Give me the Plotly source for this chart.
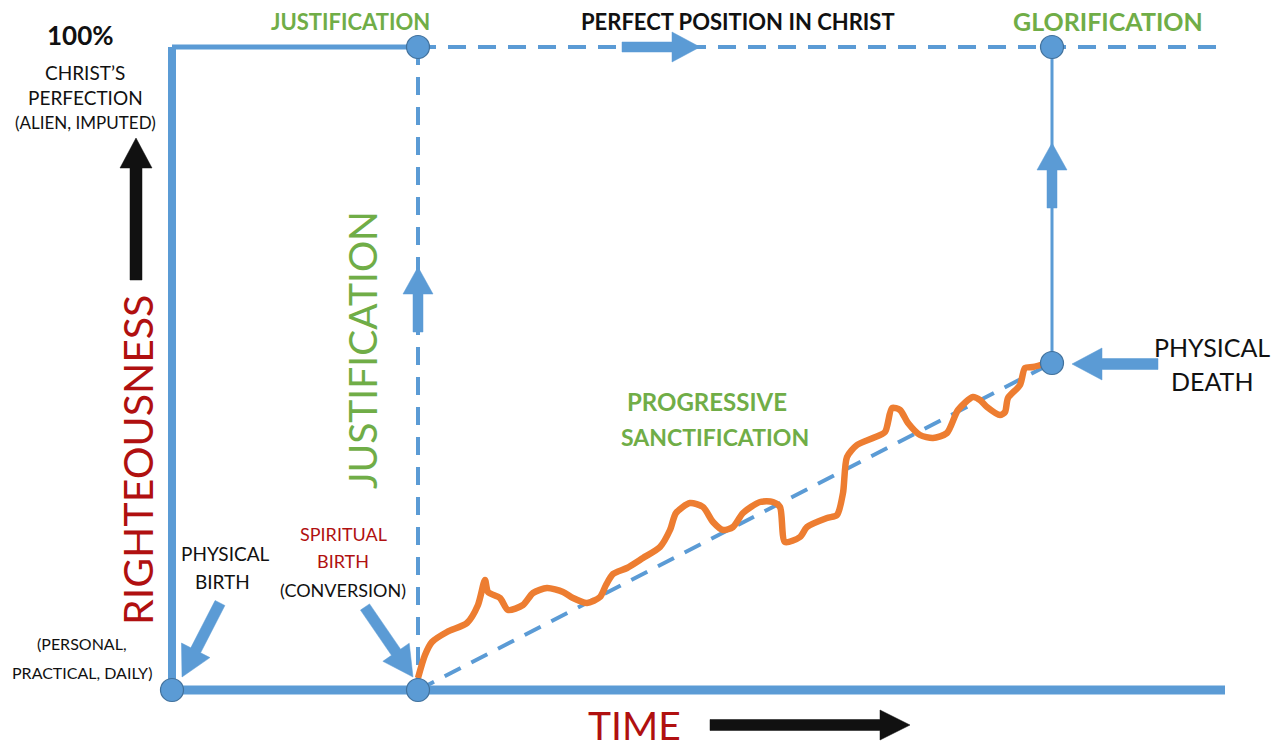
import plotly.graph_objects as go

W, H = 1281, 749
BLUE = "#5B9BD5"
BLUE_EDGE = "#41719C"
ORANGE = "#ED7D31"
GREEN = "#70AD47"
RED = "#B01010"
BLACK = "#111111"
FONT = "Lato"

# ---- diagram data (diagram coordinates: x = time, y = down-screen) ----
nodes_x = [172, 418, 418, 1052, 1052]
nodes_y = [690, 690, 47, 47, 363]

# solid blue frame lines: (x0, y0, x1, y1, width)
solid_lines = [
    (172, 690, 172, 47, 8),
    (172, 47, 418, 47, 5),
    (172, 690, 1225, 690, 9),
    (1052, 47, 1052, 363, 3),
]
# dashed blue lines
dashed_lines = [
    (418, 47, 1225, 47, 4),
    (418, 47, 418, 690, 4),
    (418, 690, 1052, 363, 4),
]

# progressive sanctification (orange wavy path)
sanct_x = [418, 425, 432, 447, 467, 478, 485, 488, 500, 508, 523, 533, 547, 563, 573, 587,
           600, 606, 613, 627, 643, 660, 670, 676, 690, 703, 713, 723, 733, 743, 760, 773,
           780, 785, 800, 807, 827, 837, 843, 847, 857, 873, 885, 892, 900, 908, 920, 933,
           947, 958, 973, 980, 987, 1000, 1005, 1008, 1020, 1025, 1033, 1047]
sanct_y = [678, 655, 642, 632, 623, 605, 580, 592, 598, 610, 605, 593, 588, 592, 598, 603,
           597, 585, 574, 568, 558, 547, 530, 513, 503, 507, 522, 530, 527, 513, 502, 502,
           507, 542, 537, 527, 518, 515, 493, 457, 445, 438, 432, 408, 410, 423, 435, 438,
           433, 410, 397, 400, 407, 415, 412, 398, 385, 368, 367, 363]

# block arrows: (x_start, y_start, x_tip, y_tip, shaft_w, head_w, head_len, color)
arrows = [
    (622, 47, 700, 47, 10, 30, 28, BLUE),
    (418, 332, 418, 267, 10, 30, 27, BLUE),
    (1052, 208, 1052, 143, 10, 30, 27, BLUE),
    (1158, 364, 1072, 364, 11, 32, 30, BLUE),
    (220, 603, 182, 677, 11, 32, 30, BLUE),
    (365, 607, 413, 677, 11, 32, 30, BLUE),
    (136, 280, 136, 138, 12, 32, 30, BLACK),
    (710, 725, 910, 725, 11, 30, 30, BLACK),
]

# text labels: (text, x, y, size, color, bold, angle)
labels = [
    ("100%", 80, 35, 26, BLACK, True, 0),
    ("CHRIST\u2019S", 85, 72, 19, BLACK, False, 0),
    ("PERFECTION", 85, 97, 19, BLACK, False, 0),
    ("(ALIEN, IMPUTED)", 85, 122, 17, BLACK, False, 0),
    ("(PERSONAL,", 82, 643, 16, BLACK, False, 0),
    ("PRACTICAL, DAILY)", 82, 672, 16, BLACK, False, 0),
    ("PHYSICAL", 225, 553, 19, BLACK, False, 0),
    ("BIRTH", 222, 581, 19, BLACK, False, 0),
    ("SPIRITUAL", 343, 534, 18, RED, False, 0),
    ("BIRTH", 343, 561, 18, RED, False, 0),
    ("(CONVERSION)", 343, 590, 18, BLACK, False, 0),
    ("JUSTIFICATION", 350, 21, 22, GREEN, True, 0),
    ("PERFECT POSITION IN CHRIST", 738, 21, 22, BLACK, True, 0),
    ("GLORIFICATION", 1108, 21, 25, GREEN, True, 0),
    ("PROGRESSIVE", 707, 401, 24, GREEN, True, 0),
    ("SANCTIFICATION", 715, 437, 23, GREEN, True, 0),
    ("PHYSICAL", 1212, 347, 25, BLACK, False, 0),
    ("DEATH", 1212, 381, 25, BLACK, False, 0),
    ("RIGHTEOUSNESS", 137, 460, 41, RED, False, -90),
    ("JUSTIFICATION", 362, 350, 39, GREEN, False, -90),
    ("TIME", 634, 725, 39, RED, False, 0),
]


def arrow_poly(x0, y0, x1, y1, sw, hw, hl):
    dx, dy = x1 - x0, y1 - y0
    L = (dx * dx + dy * dy) ** 0.5
    ux, uy = dx / L, dy / L
    nx, ny = -uy, ux
    bx, by = x1 - ux * hl, y1 - uy * hl
    pts = [
        (x0 + nx * sw / 2, y0 + ny * sw / 2),
        (bx + nx * sw / 2, by + ny * sw / 2),
        (bx + nx * hw / 2, by + ny * hw / 2),
        (x1, y1),
        (bx - nx * hw / 2, by - ny * hw / 2),
        (bx - nx * sw / 2, by - ny * sw / 2),
        (x0 - nx * sw / 2, y0 - ny * sw / 2),
        (x0 + nx * sw / 2, y0 + ny * sw / 2),
    ]
    return [p[0] for p in pts], [p[1] for p in pts]


fig = go.Figure()

for (x0, y0, x1, y1, w) in dashed_lines:
    fig.add_trace(go.Scatter(x=[x0, x1], y=[y0, y1], mode="lines",
                             line=dict(color=BLUE, width=w, dash="18px,12px"),
                             hoverinfo="skip"))
for (x0, y0, x1, y1, w) in solid_lines:
    fig.add_trace(go.Scatter(x=[x0, x1], y=[y0, y1], mode="lines",
                             line=dict(color=BLUE, width=w), hoverinfo="skip"))

fig.add_trace(go.Scatter(x=sanct_x, y=sanct_y, mode="lines",
                         line=dict(color=ORANGE, width=6.5, shape="spline", smoothing=0.7),
                         hoverinfo="skip"))

for (x0, y0, x1, y1, sw, hw, hl, c) in arrows:
    px, py = arrow_poly(x0, y0, x1, y1, sw, hw, hl)
    fig.add_trace(go.Scatter(x=px, y=py, mode="lines", fill="toself",
                             fillcolor=c, line=dict(color=c, width=0.5),
                             hoverinfo="skip"))

fig.add_trace(go.Scatter(x=nodes_x, y=nodes_y, mode="markers",
                         marker=dict(size=23, color=BLUE,
                                     line=dict(color=BLUE_EDGE, width=1.2)),
                         hoverinfo="skip"))

for (t, x, y, s, c, b, a) in labels:
    fig.add_annotation(x=x, y=y, xref="x", yref="y", text=f"<b>{t}</b>" if b else t,
                       showarrow=False, textangle=a, xanchor="center", yanchor="middle",
                       font=dict(family=FONT, size=s, color=c))

fig.update_layout(
    width=W, height=H, margin=dict(l=0, r=0, t=0, b=0),
    paper_bgcolor="white", plot_bgcolor="white", showlegend=False,
    xaxis=dict(range=[0, W], visible=False, fixedrange=True),
    yaxis=dict(range=[H, 0], visible=False, fixedrange=True),
)

fig.write_html("out.html", config={"displayModeBar": False},
               post_script="document.body.style.margin='0';document.body.style.overflow='hidden';")
